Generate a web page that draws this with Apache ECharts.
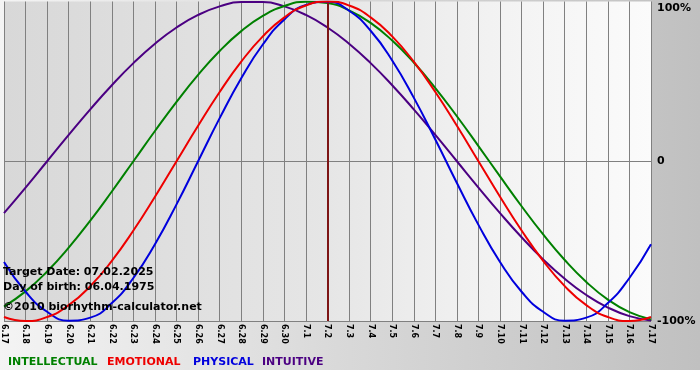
<!DOCTYPE html>
<html>
<head>
<meta charset="utf-8">
<script src="https://cdn.jsdelivr.net/npm/echarts@6/dist/echarts.min.js"></script>
<style>html,body{margin:0;padding:0;}#c{width:700px;height:380px;}</style>
</head>
<body>
<div id="c"></div>
<script>
var categories = ['6.17','6.18','6.19','6.20','6.21','6.22','6.23','6.24','6.25','6.26','6.27','6.28','6.29','6.30','7.1','7.2','7.3','7.4','7.5','7.6','7.7','7.8','7.9','7.10','7.11','7.12','7.13','7.14','7.15','7.16','7.17'];
var intellectual = [-90.96,-81.46,-69.01,-54.06,-37.17,-18.93,0,18.93,37.17,54.06,69.01,81.46,90.96,97.18,99.89,98.98,94.50,86.60,75.57,61.82,45.82,28.17,9.51,-9.51,-28.17,-45.82,-61.82,-75.57,-86.60,-94.50,-98.98];
var emotional = [-97.49,-100,-97.49,-90.10,-78.18,-62.35,-43.39,-22.25,0,22.25,43.39,62.35,78.18,90.10,97.49,100,97.49,90.10,78.18,62.35,43.39,22.25,0,-22.25,-43.39,-62.35,-78.18,-90.10,-97.49,-100,-97.49];
var physical = [-63.11,-81.70,-94.23,-99.77,-97.91,-88.79,-73.08,-51.96,-26.98,0,26.98,51.96,73.08,88.79,97.91,99.77,94.23,81.70,63.11,39.84,13.62,-13.62,-39.84,-63.11,-81.70,-94.23,-99.77,-97.91,-88.79,-73.08,-51.96];
var intuitive = [-32.47,-16.46,0,16.46,32.47,47.59,61.42,73.57,83.72,91.58,96.94,99.66,99.66,96.94,91.58,83.72,73.57,61.42,47.59,32.47,16.46,0,-16.46,-32.47,-47.59,-61.42,-73.57,-83.72,-91.58,-96.94,-99.66];
var yTicks = [-100, 0, 100];
var targetDay = '7.2';
var seriesNames = ['INTELLECTUAL','EMOTIONAL','PHYSICAL','INTUITIVE'];
var infoLines = ['Target Date: 07.02.2025','Day of birth: 06.04.1975','\u00a92010 biorhythm-calculator.net'];

var colors = {INTELLECTUAL:'#008000', EMOTIONAL:'#ee0000', PHYSICAL:'#0000dd', INTUITIVE:'#4b0082'};
var FONT = 'DejaVu Sans';
var chart = echarts.init(document.getElementById('c'), null, {renderer:'canvas'});

function mkSeries(name, data, z) {
  return {
    name: name, type: 'line', data: data, smooth: 0.5, showSymbol: false, symbol: 'none',
    lineStyle: {color: colors[name], width: 2}, itemStyle: {color: colors[name]}, z: z, silent: true
  };
}

var series = [
  mkSeries('INTUITIVE', intuitive, 3),
  mkSeries('INTELLECTUAL', intellectual, 4),
  mkSeries('PHYSICAL', physical, 5),
  mkSeries('EMOTIONAL', emotional, 6)
];
series[3].markLine = {
  silent: true, symbol: 'none', label: {show: false},
  lineStyle: {color: '#7d1515', width: 2, type: 'solid'},
  data: [{xAxis: targetDay}]
};

var legendX = [8, 107, 193, 262];
var graphics = [
  {type:'rect', left:0, top:370, shape:{width:700, height:10}, style:{fill:'#ffffff'}, silent:true, z:-1}
];
seriesNames.forEach(function(n, i){
  graphics.push({type:'text', left: legendX[i], top: 357, style:{text:n, fill:colors[n], font:'bold 11px "'+FONT+'"'}, z:10});
});
var infoY = [267, 282, 302];
infoLines.forEach(function(t, i){
  graphics.push({type:'text', left: 3, top: infoY[i], style:{text:t, fill:'#000000', font:'bold 11px "'+FONT+'"'}, z:10});
});

chart.setOption({
  animation: false,
  backgroundColor: {type:'linear', x:0, y:0, x2:1, y2:0, colorStops:[{offset:0, color:'#f4f4f4'},{offset:0.5,color:'#d8d8d8'},{offset:1, color:'#c0c0c0'}]},
  grid: {
    left: 1, right: 49, top: 1.5, bottom: 59, show: true, borderWidth: 0,
    backgroundColor: {type:'linear', x:0, y:0, x2:1, y2:0, colorStops:[{offset:0, color:'#d8d8d8'},{offset:0.5,color:'#e6e6e6'},{offset:0.75,color:'#f2f2f2'},{offset:1, color:'#fbfbfb'}]}
  },
  xAxis: {
    type: 'category', data: categories, boundaryGap: false,
    axisLine: {show: false}, axisTick: {show: false},
    splitLine: {show: true, interval: 0, lineStyle: {color: '#808080', width: 1}},
    axisLabel: {interval: 0, rotate: -90, margin: 3, color: '#000', fontFamily: FONT, fontWeight: 'bold', fontSize: 8}
  },
  yAxis: {
    type: 'value', position: 'right', min: -100, max: 100, interval: 100,
    axisLine: {show: false}, axisTick: {show: false},
    splitLine: {show: true, lineStyle: {color: ['#808080','#808080','rgba(0,0,0,0)'], width: 1}},
    axisLabel: {
      margin: 6, color: '#000', fontFamily: FONT, fontWeight: 'bold', fontSize: 11,
      formatter: function(v){ if (v === yTicks[2]) return '{t|' + v + '%}'; if (v === 0) return '0'; return v + '%'; },
      rich: {t: {padding: [13,0,0,0], fontFamily: FONT, fontWeight: 'bold', fontSize: 11, color:'#000'}}
    }
  },
  series: series,
  graphic: graphics
});
</script>
</body>
</html>
